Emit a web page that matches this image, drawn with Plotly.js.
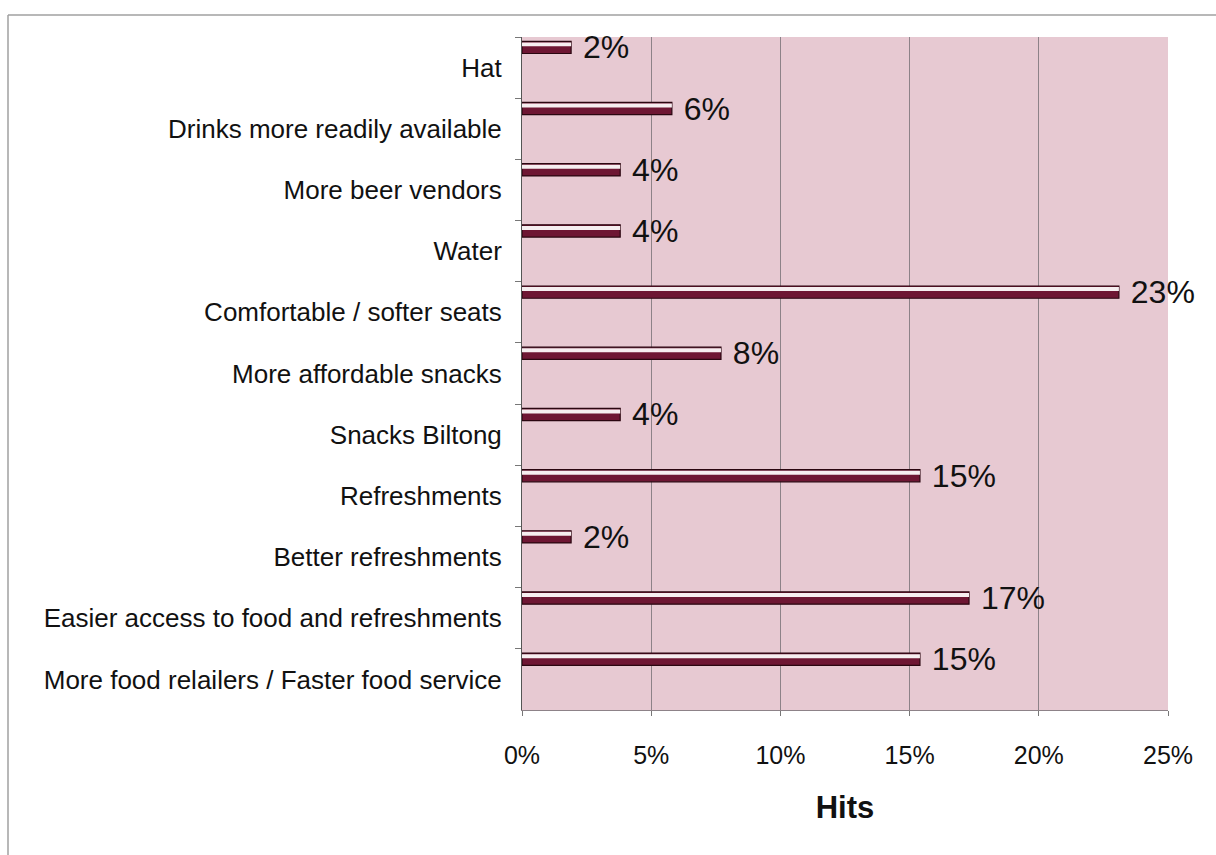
<!DOCTYPE html>
<html>
<head>
<meta charset="utf-8">
<script src="https://cdn.plot.ly/plotly-3.0.1.min.js"></script>
<style>
  html, body { margin: 0; padding: 0; background: #ffffff; }
  #chart { width: 1216px; height: 855px; }
</style>
</head>
<body>
<div id="chart"></div>
<script>
// Suggested improvements, share of hits (top to bottom)
const categories = [
  "Hat",
  "Drinks more readily available",
  "More beer vendors",
  "Water",
  "Comfortable / softer seats",
  "More affordable snacks",
  "Snacks Biltong",
  "Refreshments",
  "Better refreshments",
  "Easier access to food and refreshments",
  "More food relailers / Faster food service"
];
const hits = [0.019, 0.058, 0.038, 0.038, 0.231, 0.077, 0.038, 0.154, 0.019, 0.173, 0.154];

const xTicks = [0, 0.05, 0.10, 0.15, 0.20, 0.25];

const fontFamily = "'Liberation Sans', Arial, sans-serif";

// Plot area in pixels, used to place the frame lines in paper units
const plotLeft = 522, plotRight = 1168, plotTop = 37, plotBottom = 710;
const plotW = plotRight - plotLeft, plotH = plotBottom - plotTop;
const px = v => (v - plotLeft) / plotW;
const py = v => (plotBottom - v) / plotH;

// Main bar body: dark maroon with a dark outline, sitting in the upper part of each band
const body = {
  type: "bar",
  orientation: "h",
  y: categories,
  x: hits,
  offset: -0.43,
  width: 0.2,
  marker: { color: "#6e1633", line: { color: "#2a0610", width: 1.2 } },
  text: hits,
  texttemplate: " %{x:.0%}",
  textposition: "outside",
  textfont: { family: fontFamily, size: 32, color: "#111111" },
  constraintext: "none",
  cliponaxis: false,
  hoverinfo: "skip"
};

// Light highlight stripe along the top of each bar
const highlight = {
  type: "bar",
  orientation: "h",
  y: categories,
  x: hits,
  offset: -0.412,
  width: 0.065,
  marker: { color: "#f6eef0", line: { width: 0 } },
  hoverinfo: "skip"
};

const layout = {
  width: 1216,
  height: 855,
  margin: { l: plotLeft, r: 1216 - plotRight, t: plotTop, b: 855 - plotBottom },
  paper_bgcolor: "#ffffff",
  plot_bgcolor: "#e7c9d2",
  showlegend: false,
  barmode: "overlay",
  font: { family: fontFamily, size: 26, color: "#111111" },
  xaxis: {
    range: [0, 0.25],
    tickvals: xTicks,
    tickformat: ".0%",
    showgrid: true,
    gridcolor: "#8d8288",
    gridwidth: 1,
    zeroline: false,
    showline: true,
    linecolor: "#8d8288",
    linewidth: 1,
    ticks: "outside",
    ticklen: 5,
    tickcolor: "#777777",
    ticklabelstandoff: 18,
    tickfont: { family: fontFamily, size: 25, color: "#111111" },
    title: {
      text: "<b>Hits</b>",
      font: { family: fontFamily, size: 31, color: "#111111" },
      standoff: 28
    }
  },
  yaxis: {
    type: "category",
    autorange: "reversed",
    tickson: "boundaries",
    ticks: "outside",
    ticklen: 6,
    tickcolor: "#777777",
    showline: true,
    linecolor: "#555555",
    linewidth: 1,
    showgrid: false,
    ticklabelstandoff: 14,
    tickfont: { family: fontFamily, size: 26, color: "#111111" }
  },
  shapes: [
    // chart frame: top edge
    {
      type: "line", xref: "paper", yref: "paper",
      x0: px(8), x1: px(1216), y0: py(15), y1: py(15),
      line: { color: "#a0a0a0", width: 1.5 }
    },
    // chart frame: left edge
    {
      type: "line", xref: "paper", yref: "paper",
      x0: px(8), x1: px(8), y0: py(15), y1: py(860),
      line: { color: "#a0a0a0", width: 1.5 }
    }
  ]
};

Plotly.newPlot("chart", [body, highlight], layout, { displayModeBar: false, staticPlot: true });
</script>
</body>
</html>
